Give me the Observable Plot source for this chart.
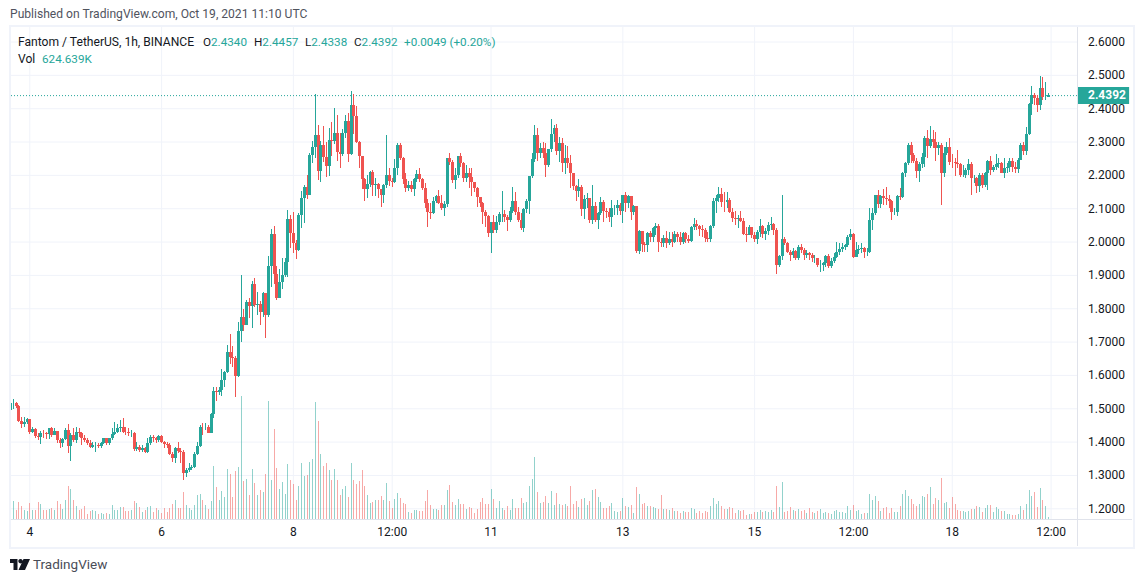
<!DOCTYPE html>
<html>
<head>
<meta charset="utf-8">
<script src="https://cdn.jsdelivr.net/npm/d3@7"></script>
<script src="https://cdn.jsdelivr.net/npm/@observablehq/plot@0.6"></script>
<style>
html,body{margin:0;padding:0;background:#fff;overflow:hidden;width:1143px;height:582px}
body{position:relative;font-family:"Roboto",sans-serif;color:#131722;font-size:11.7px}
#chart{position:absolute;left:0;top:0}
.t{position:absolute;white-space:nowrap;line-height:14px}
.w{font-size:12.1px}
.g{color:#26a69a}
.box{position:absolute;border:2px solid #f0f3fa;left:9px;top:25px;width:1122px;height:520px;box-sizing:content-box}
.v{position:absolute;left:1077px;top:27px;width:1px;height:519px;background:#e0e3eb}
.h{position:absolute;left:11px;top:519px;width:1121px;height:1px;background:#e0e3eb}
</style>
</head>
<body>
<div class="box"></div>
<div id="chart"></div>
<div class="v"></div>
<div class="h"></div>
<div class="t w" style="left:10px;top:7px;color:#50535e;">Published on TradingView.com, Oct 19, 2021 11:10 UTC</div>
<div class="t w" style="left:18px;top:35px">Fantom / TetherUS, 1h, BINANCE</div>
<div class="t" style="left:203px;top:35px">O<span class="g">2.4340</span></div>
<div class="t" style="left:254px;top:35px">H<span class="g">2.4457</span></div>
<div class="t" style="left:305px;top:35px">L<span class="g">2.4338</span></div>
<div class="t" style="left:354px;top:35px">C<span class="g">2.4392</span></div>
<div class="t g" style="left:404px;top:35px">+0.0049 (+0.20%)</div>
<div class="t w" style="left:18px;top:52px">Vol</div>
<div class="t g" style="left:42px;top:52px">624.639K</div>
<svg style="position:absolute;left:10px;top:558px" width="20" height="13" viewBox="0 0 20 13"><path fill="#131722" d="M0 1h7.5v11H3.5V5H0zM10.5 1a2.2 2.2 0 1 1-.01 0zM13.5 1H20L15 12H8.5z"/></svg>
<div class="t" style="left:33px;top:557px;font-size:13.5px;color:#4a4d57">TradingView</div>

<script>
const start = Date.UTC(2021, 9, 3, 17);
const firstOpen = 1.495;
const closes = [
1.515,1.517,1.507,1.463,1.453,1.46,1.467,1.43,1.437,1.417,
1.413,1.427,1.425,1.422,1.44,1.42,1.432,1.405,1.395,1.407,
1.435,1.388,1.42,1.405,1.43,1.425,1.41,1.405,1.395,1.385,
1.39,1.39,1.387,1.397,1.41,1.395,1.41,1.423,1.43,1.44,
1.445,1.43,1.428,1.425,1.425,1.378,1.385,1.375,1.38,1.37,
1.397,1.415,1.41,1.405,1.418,1.40,1.393,1.39,1.363,1.35,
1.38,1.373,1.37,1.305,1.315,1.32,1.323,1.363,1.387,1.445,
1.443,1.445,1.427,1.482,1.552,1.548,1.555,1.585,1.61,1.668,
1.655,1.651,1.598,1.733,1.773,1.75,1.82,1.807,1.873,1.81,
1.812,1.79,1.845,1.78,1.927,2.023,1.902,1.832,1.88,1.90,
1.94,2.067,2.025,1.995,1.975,2.08,2.13,2.165,2.14,2.26,
2.283,2.32,2.213,2.29,2.255,2.228,2.305,2.302,2.325,2.27,
2.263,2.325,2.362,2.263,2.41,2.378,2.30,2.257,2.189,2.158,
2.173,2.21,2.17,2.172,2.157,2.14,2.17,2.20,2.182,2.178,
2.221,2.29,2.252,2.189,2.162,2.17,2.158,2.187,2.203,2.187,
2.16,2.117,2.089,2.087,2.122,2.137,2.117,2.102,2.113,2.25,
2.24,2.185,2.20,2.257,2.235,2.19,2.205,2.193,2.178,2.162,
2.133,2.115,2.09,2.078,2.025,2.06,2.035,2.06,2.082,2.083,
2.073,2.065,2.092,2.122,2.09,2.065,2.04,2.098,2.122,2.197,
2.247,2.32,2.265,2.28,2.265,2.23,2.277,2.322,2.34,2.273,
2.295,2.237,2.25,2.235,2.207,2.167,2.153,2.163,2.098,2.128,
2.13,2.065,2.107,2.065,2.085,2.12,2.093,2.09,2.073,2.10,
2.10,2.11,2.093,2.14,2.115,2.137,2.09,2.107,1.972,2.032,
1.993,1.99,2.025,2.015,2.04,2.047,2.0,1.995,2.012,1.997,
2.008,1.998,2.023,2.015,2.00,2.025,2.007,2.003,2.045,2.053,
2.047,2.039,2.035,2.01,2.007,2.047,2.122,2.13,2.143,2.12,
2.118,2.125,2.09,2.07,2.067,2.07,2.063,2.023,2.02,2.043,
2.02,2.008,2.03,2.047,2.023,2.032,2.05,2.053,2.035,1.93,
1.957,2.007,1.997,1.97,1.96,1.972,1.95,1.985,1.975,1.96,
1.965,1.96,1.95,1.95,1.93,1.93,1.935,1.957,1.927,1.943,
1.955,1.968,1.977,1.985,1.99,2.015,2.023,1.955,1.975,1.977,
1.98,1.968,1.968,2.065,2.087,2.139,2.113,2.137,2.13,2.127,
2.122,2.09,2.09,2.137,2.133,2.207,2.237,2.289,2.26,2.243,
2.213,2.232,2.255,2.31,2.287,2.307,2.3,2.28,2.29,2.207,
2.265,2.283,2.24,2.238,2.235,2.232,2.2,2.2,2.215,2.233,
2.19,2.19,2.168,2.2,2.17,2.205,2.243,2.215,2.225,2.233,
2.235,2.207,2.22,2.225,2.243,2.223,2.218,2.245,2.29,2.273,
2.323,2.413,2.44,2.43,2.41,2.46,2.433,2.434,2.4392];
const highs = [
1.52,1.527,1.52,1.51,1.473,1.475,1.472,1.467,1.443,1.44,
1.425,1.432,1.435,1.43,1.442,1.443,1.44,1.432,1.41,1.41,
1.44,1.452,1.425,1.44,1.445,1.44,1.43,1.42,1.41,1.405,
1.40,1.40,1.395,1.40,1.412,1.41,1.412,1.44,1.46,1.452,
1.465,1.47,1.445,1.44,1.435,1.43,1.40,1.39,1.39,1.385,
1.41,1.42,1.42,1.415,1.42,1.42,1.403,1.40,1.395,1.37,
1.385,1.40,1.38,1.375,1.32,1.335,1.33,1.37,1.40,1.45,
1.455,1.455,1.45,1.485,1.565,1.563,1.565,1.618,1.613,1.691,
1.723,1.688,1.658,1.76,1.90,1.798,1.825,1.83,1.882,1.89,
1.85,1.823,1.85,1.845,1.957,2.037,2.047,1.927,1.917,1.95,
1.95,2.095,2.08,2.088,2.005,2.087,2.152,2.17,2.2,2.267,
2.302,2.442,2.35,2.302,2.347,2.30,2.342,2.36,2.402,2.38,
2.325,2.337,2.38,2.385,2.452,2.443,2.407,2.302,2.257,2.19,
2.2,2.213,2.215,2.19,2.175,2.157,2.173,2.32,2.22,2.19,
2.248,2.297,2.295,2.255,2.205,2.182,2.182,2.19,2.215,2.22,
2.19,2.175,2.127,2.115,2.135,2.14,2.155,2.14,2.122,2.25,
2.267,2.245,2.22,2.257,2.265,2.24,2.23,2.22,2.22,2.18,
2.165,2.135,2.12,2.095,2.08,2.06,2.08,2.077,2.09,2.152,
2.095,2.08,2.105,2.163,2.148,2.105,2.085,2.10,2.127,2.197,
2.265,2.35,2.34,2.295,2.30,2.295,2.277,2.368,2.35,2.353,
2.315,2.31,2.29,2.287,2.26,2.207,2.17,2.187,2.17,2.14,
2.145,2.13,2.17,2.12,2.09,2.133,2.125,2.10,2.10,2.125,
2.11,2.125,2.115,2.14,2.15,2.14,2.137,2.11,2.107,2.035,
2.025,2.0,2.03,2.033,2.045,2.055,2.053,2.01,2.02,2.032,
2.03,2.03,2.032,2.03,2.03,2.03,2.03,2.02,2.048,2.07,
2.065,2.05,2.05,2.04,2.03,2.05,2.13,2.14,2.165,2.16,
2.15,2.15,2.13,2.10,2.092,2.08,2.092,2.07,2.045,2.05,
2.045,2.03,2.035,2.069,2.05,2.04,2.06,2.073,2.055,2.04,
1.96,2.14,2.015,2.0,1.975,1.98,1.975,1.99,1.993,1.98,
1.975,1.97,1.965,1.96,1.95,1.945,1.94,1.96,1.962,1.95,
1.965,2.0,1.995,1.997,1.993,2.02,2.038,2.025,2.0,1.99,
1.995,1.985,1.98,2.10,2.10,2.14,2.155,2.14,2.158,2.165,
2.14,2.125,2.10,2.14,2.16,2.21,2.24,2.295,2.298,2.267,
2.25,2.24,2.265,2.317,2.335,2.347,2.335,2.33,2.30,2.295,
2.283,2.30,2.31,2.262,2.25,2.275,2.235,2.23,2.22,2.247,
2.24,2.2,2.195,2.205,2.205,2.21,2.245,2.257,2.23,2.263,
2.25,2.24,2.252,2.235,2.25,2.25,2.24,2.25,2.295,2.30,
2.343,2.415,2.467,2.445,2.44,2.497,2.493,2.48,2.4457];
const lows = [
1.475,1.497,1.50,1.46,1.442,1.445,1.452,1.424,1.425,1.412,
1.405,1.392,1.41,1.407,1.407,1.415,1.42,1.395,1.38,1.385,
1.405,1.365,1.343,1.40,1.395,1.415,1.39,1.398,1.39,1.382,
1.382,1.37,1.38,1.38,1.392,1.39,1.39,1.405,1.42,1.425,
1.43,1.425,1.42,1.418,1.415,1.373,1.372,1.37,1.37,1.365,
1.365,1.39,1.40,1.395,1.40,1.395,1.38,1.382,1.36,1.34,
1.335,1.365,1.335,1.285,1.293,1.31,1.315,1.32,1.36,1.385,
1.42,1.435,1.425,1.425,1.47,1.523,1.541,1.538,1.563,1.605,
1.633,1.623,1.535,1.593,1.70,1.733,1.75,1.772,1.74,1.805,
1.78,1.75,1.773,1.71,1.775,1.863,1.873,1.825,1.832,1.857,
1.895,1.895,1.982,1.965,1.948,1.972,2.04,2.055,2.127,2.15,
2.237,2.25,2.185,2.18,2.24,2.195,2.198,2.257,2.293,2.242,
2.222,2.257,2.31,2.24,2.26,2.323,2.295,2.222,2.158,2.123,
2.132,2.165,2.137,2.137,2.132,2.105,2.117,2.162,2.167,2.165,
2.175,2.20,2.245,2.173,2.15,2.152,2.15,2.138,2.18,2.18,
2.155,2.10,2.045,2.068,2.084,2.115,2.113,2.095,2.077,2.105,
2.23,2.177,2.158,2.19,2.225,2.18,2.18,2.16,2.137,2.15,
2.105,2.105,2.053,2.045,2.013,1.967,2.025,2.027,2.05,2.06,
2.06,2.033,2.06,2.085,2.08,2.06,2.035,2.03,2.085,2.083,
2.19,2.24,2.243,2.25,2.25,2.195,2.225,2.27,2.30,2.26,
2.24,2.21,2.203,2.22,2.16,2.155,2.123,2.133,2.078,2.067,
2.10,2.055,2.052,2.06,2.038,2.08,2.06,2.07,2.06,2.045,
2.08,2.08,2.08,2.057,2.09,2.10,2.065,2.08,1.965,1.963,
1.97,1.97,1.97,2.0,2.0,2.02,1.97,1.985,1.985,1.98,
1.99,1.985,1.995,2.0,1.99,1.993,1.997,1.997,2.0,2.035,
2.035,2.018,2.015,2.0,2.0,2.0,2.04,2.085,2.12,2.105,
2.09,2.10,2.085,2.06,2.05,2.042,2.06,2.02,2.0,2.02,
2.01,2.0,1.993,2.015,2.01,2.005,2.02,2.035,2.02,1.903,
1.925,1.945,1.99,1.965,1.943,1.95,1.945,1.945,1.965,1.945,
1.95,1.945,1.94,1.935,1.925,1.91,1.912,1.925,1.92,1.92,
1.935,1.95,1.96,1.97,1.975,1.985,2.005,1.95,1.955,1.962,
1.965,1.952,1.957,1.965,2.035,2.08,2.10,2.10,2.11,2.11,
2.10,2.065,2.08,2.077,2.125,2.13,2.195,2.23,2.235,2.237,
2.19,2.18,2.22,2.225,2.252,2.28,2.28,2.243,2.26,2.11,
2.195,2.26,2.23,2.22,2.197,2.22,2.195,2.195,2.19,2.2,
2.14,2.175,2.145,2.15,2.16,2.165,2.155,2.2,2.21,2.215,
2.222,2.205,2.19,2.205,2.21,2.21,2.205,2.207,2.245,2.26,
2.26,2.32,2.38,2.41,2.39,2.395,2.425,2.425,2.4338];
// volume, millions of FTM
const volumes = [
2.3,5.3,2.6,5.2,4.0,2.8,2.5,4.8,2.8,2.8,
5.0,4.6,2.6,2.6,3.0,3.3,2.6,5.3,4.6,3.0,
5.8,10,9,5.6,4,2.6,3,3.8,1.6,2.3,
2.8,2.3,1.6,1.8,1.6,1.8,1.6,4.3,2.8,2.6,
3.6,3.5,2.3,2.3,2.8,5.5,4.8,3.5,2,2.8,
3.6,3.8,2,3.3,2.6,1.8,3.3,2,3.3,4.6,
5.8,3.3,3.3,8.2,4.3,3.3,2.6,4.3,7.3,7.6,
5.6,4.3,3,5.5,16,9.5,5.6,8.3,6.5,15.1,
13.6,6.6,14.5,15.6,37,11.3,12.1,7.3,15.1,10.8,
7.3,8.8,8,13.6,35.5,11.8,27.1,15.4,9,11,
7.6,16.6,11.8,10.6,5.8,10,16.8,12.8,13.1,17,
18.1,35.2,29.5,19.6,16,16.8,14.8,11.6,15.1,11.6,
7.1,9,10,6.6,16.8,11.8,10.6,11.5,14.8,9.8,
7.3,4.8,5,5.6,5.6,
7.0,5.8,10.9,5.5,3.4,6.1,7.9,6.4,4.9,4.6,
2.2,1.9,2.8,2.8,2.5,2.5,5.5,8.8,4.3,3.1,
3.1,2.8,4.3,4.3,8.8,10.3,5.2,4.3,6.1,4.6,
4.6,3.1,3.7,3.4,1.9,3.1,5.2,6.4,4.6,4.6,
9.1,6.1,3.4,5.5,3.4,2.8,4.0,2.8,6.1,3.4,
3.4,6.4,4.9,5.2,10,12.1,18.7,8.2,4.9,5.2,
7,4.9,8.5,4.3,7.9,4.6,4.3,4.6,4,10,
4.6,5.5,3.7,6.1,6.4,4.3,5.5,8.8,9.1,6.7,
5.2,3.4,3.4,4,4.9,2.5,2.2,2.5,6.4,4,
3.7,4.3,1.9,9.7,7.6,4.6,4.9,4,4,3.7,
3.4,3.1,7.3,3.1,3.1,2.8,3.4,2.5,2.5,1.9,
2.5,2.2,2.2,3.4,3.1,1.9,2.5,1.9,2.5,2.2,
4,6.4,4.6,5.5,4,3.1,3.1,3.7,3.4,1.9,
2.8,2.5,
2.8,1.3,1.6,1.6,2.2,2.2,2.8,2.2,2.5,2.2,
2.8,2.2,10,3.7,11.2,2.2,2.5,3.7,2.8,2.5,
3.1,2.5,2.8,1.9,3.4,2.2,1.9,2.5,3.1,1.9,
2.2,1.9,1.6,2.5,2.8,2.2,2.2,1.9,4,2.8,
4.3,2.5,2.8,1.6,1.9,1.9,7.6,5.8,7,5.5,
2.5,3.4,3.7,1.9,3.4,2.2,2.2,4,7.6,8.8,
7,6.1,4.6,4,4.6,7,6.7,7.6,9.7,4.6,
6.4,5.8,12.4,4.9,5.2,3.4,6.7,4.6,2.8,2.5,
2.5,2.2,2.5,3.1,3.1,4,3.7,2.2,3.4,4.3,
4.3,2.2,3.7,3.1,2.5,2.5,1.6,1.6,1.3,1.3,
1.6,4,2.8,4.6,8.8,7,8.2,3.7,9.4,5.8,
4,0.6];
const priceTicks = [1.2,1.3,1.4,1.5,1.6,1.7,1.8,1.9,2.0,2.1,2.2,2.3,2.4,2.5,2.6];
const timeTicks = ["2021-10-04T00:00Z","2021-10-06T00:00Z","2021-10-08T00:00Z","2021-10-09T12:00Z","2021-10-11T00:00Z","2021-10-13T00:00Z","2021-10-15T00:00Z","2021-10-16T12:00Z","2021-10-18T00:00Z","2021-10-19T12:00Z"].map(d => new Date(d));
const timeLabels = ["4","6","8","12:00","11","13","15","12:00","18","12:00"];
const lastPrice = 2.4392;
const UP = "#26a69a", DOWN = "#ef5350";

const n = closes.length;
if (highs.length !== n || lows.length !== n || volumes.length !== n) {
  throw new Error(`lengths c${n} h${highs.length} l${lows.length} v${volumes.length}`);
}
const hour = 3600000;
const candles = closes.map((c, i) => ({
  t: new Date(start + i * hour),
  o: i ? closes[i - 1] : firstOpen,
  h: highs[i], l: lows[i], c, v: volumes[i]
}));
const dir = d => d.c >= d.o ? UP : DOWN;

const domainY = [1.1679, 2.6435];
const volToPrice = 0.01;       // the volume pane shares the price axis, as an overlay
const xStart = new Date(Date.UTC(2021, 9, 4) - 6.67 * hour);
const xEnd = new Date(Date.UTC(2021, 9, 4) + 381.8 * hour);
const xBadgeEnd = new Date(xEnd.getTime() + 18.8 * hour);

const fig = Plot.plot({
  width: 1143, height: 582,
  marginLeft: 11, marginRight: 65.5, marginTop: 27, marginBottom: 63,
  style: {fontFamily: "Roboto, sans-serif", fontSize: "12px", color: "#131722", background: "transparent", overflow: "visible"},
  x: {type: "time", domain: [xStart, xEnd]},
  y: {domain: domainY},
  marks: [
    Plot.gridY(priceTicks, {stroke: "#f0f3fa", strokeOpacity: 1}),
    Plot.gridX(timeTicks, {stroke: "#f0f3fa", strokeOpacity: 1}),
    Plot.ruleX(candles, {x: "t", y1: domainY[0], y2: d => domainY[0] + d.v * volToPrice, stroke: dir, strokeOpacity: 0.5, strokeWidth: 1, shapeRendering: "crispEdges", clip: true}),
    Plot.ruleY([lastPrice], {stroke: UP, strokeWidth: 1, strokeDasharray: "1 2"}),
    Plot.ruleX(candles, {x: "t", y1: "l", y2: "h", stroke: dir, strokeWidth: 1, shapeRendering: "crispEdges", clip: true}),
    Plot.ruleX(candles, {x: "t", y1: "o", y2: "c", stroke: dir, strokeWidth: 3, shapeRendering: "crispEdges", clip: true}),
    Plot.axisY({anchor: "right", ticks: priceTicks, tickSize: 0, tickPadding: 10, label: null, tickFormat: d3.format(".4f"), fill: "#131722"}),
    Plot.axisX({anchor: "bottom", ticks: timeTicks, tickSize: 0, tickPadding: 8, label: null, tickFormat: (d, i) => timeLabels[i], fill: "#131722"}),
    Plot.ruleY([lastPrice], {x1: xEnd, x2: xBadgeEnd, stroke: UP, strokeWidth: 17}),
    Plot.text([lastPrice], {x: xEnd, y: d => d, text: d => d3.format(".4f")(d), fill: "#fff", fontWeight: "bold", textAnchor: "start", dx: 10})
  ]
});
document.getElementById("chart").append(fig);
</script>
</body>
</html>
